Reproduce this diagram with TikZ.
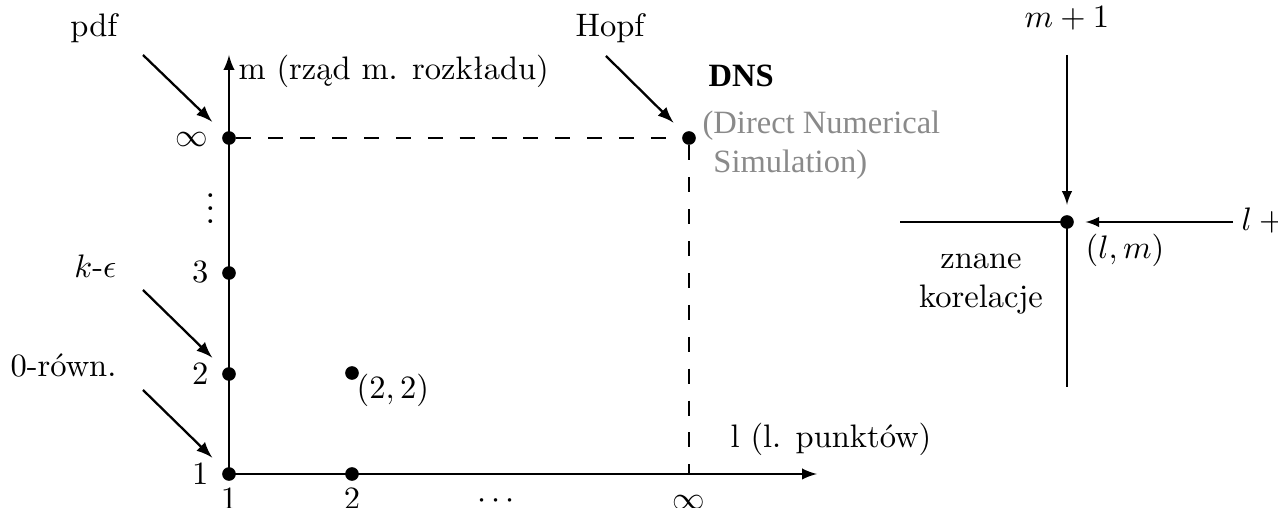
\documentclass[tikz,border=0pt]{standalone}
\usepackage{fontspec}
\newfontfamily\timesfont{Liberation Serif}
\usepackage{tikz}
\usetikzlibrary{arrows}
\definecolor{simgray}{HTML}{8A8A8A}

\tikzset{
  dot/.style={circle,fill=black,inner sep=0pt,minimum size=4.2pt},
  axis/.style={line width=0.6pt,-latex},
  ptr/.style={line width=0.7pt,-latex},
  thinline/.style={line width=0.45pt},
  lbl/.style={inner sep=0pt},
  guide/.style={line width=0.6pt,dash pattern=on 4.6pt off 5.2pt}
}

\begin{document}
\begin{tikzpicture}[x=0.0108cm,y=-0.0108cm]
\clip (0,0) rectangle (1278,508);
% punkty (l,m)
\node[dot] (p11) at (229,474) {};
\node[dot] (p12) at (229,374) {};
\node[dot] (p13) at (229,273) {};
\node[dot] (p1inf) at (229,138) {};
\node[dot] (p21) at (352,474) {};
\node[dot] (p22) at (352,373) {};
\node[dot] (pinf) at (689,138) {};
\coordinate (xinf) at (689,474);
\coordinate (ytip) at (229,55);
\coordinate (xtip) at (817,474);
   \draw [axis] (p11.center) -- (ytip);
   \draw [axis] (p11.center) -- (xtip);
\draw[guide] (p1inf) -- (pinf) -- (xinf);
% opisy osi
\node[lbl,anchor=base east] (yl1) at (209,485) {1};
\node[lbl,anchor=base east] (yl2) at (209,385) {2};
\node[lbl,anchor=base east] (yl3) at (209,283) {3};
\node[lbl,anchor=base east] (ylinf) at (209,147) {$\infty$};
\node[lbl,anchor=base,font=\large] (vdots) at (211,224) {$\vdots$};
\node[lbl,anchor=base] (xl1) at (229,510) {1};
\node[lbl,anchor=base] (xl2) at (352,510) {2};
\node[lbl,anchor=base] (cdots) at (496,509) {$\cdots$};
\node[lbl,anchor=base] (xlinf) at (689,510) {$\infty$};
\node[lbl,anchor=base west] (mlab) at (238,80) {m (rząd m. rozkładu)};
\node[lbl,anchor=base west] (llab) at (730,448) {l (l. punktów)};
\node[lbl,anchor=base west] (lab22) at (356,399) {$(2,2)$};
% modele
\node[lbl,anchor=base east] (pdf) at (118,37) {pdf};
\node[lbl,anchor=base east] (keps) at (117,278) {$k$-$\epsilon$};
\node[lbl,anchor=base east] (zero) at (117,377) {0-równ.};
\node[lbl,anchor=base] (hopf) at (610,37) {Hopf};
\node[lbl,anchor=base west] (dns) at (708,87) {\timesfont\bfseries DNS};
\node[lbl,anchor=north west,align=left,text=simgray,font=\timesfont] (dnsfull) at (702,110)
   {(Direct Numerical\\\phantom{(}Simulation)};
\draw[ptr,shorten >=4.9pt] ([shift={(-86,-83)}]p1inf.center) -- (p1inf);
\draw[ptr,shorten >=4.9pt] ([shift={(-86,-84)}]p12.center) -- (p12);
\draw[ptr,shorten >=4.9pt] ([shift={(-86,-84)}]p11.center) -- (p11);
\draw[ptr,shorten >=4.4pt] ([shift={(-83,-82)}]pinf.center) -- (pinf);
% schemat (l,m)
\node[dot] (lm) at (1067,222) {};
\coordinate (top) at (1067,55);
\coordinate (rgt) at (1233,222);
\coordinate (lft) at (900,222);
\coordinate (bot) at (1067,387);
\draw[thinline,-latex,shorten >=3pt] (top) -- (lm);
\draw[thinline,-latex,shorten >=3.4pt] (rgt) -- (lm);
\draw[thinline] (lft) -- (lm.center) -- (bot);
\node[lbl,anchor=base] (mplus) at (1067,28) {$m+1$};
\node[lbl,anchor=base west] (lplus) at (1241,231) {$l+1$};
\node[lbl,anchor=base west] (lmlab) at (1085,259) {$(l,m)$};
\node[lbl,anchor=north,align=center] (known) at (981,253) {znane\\korelacje};
\end{tikzpicture}
\end{document}
